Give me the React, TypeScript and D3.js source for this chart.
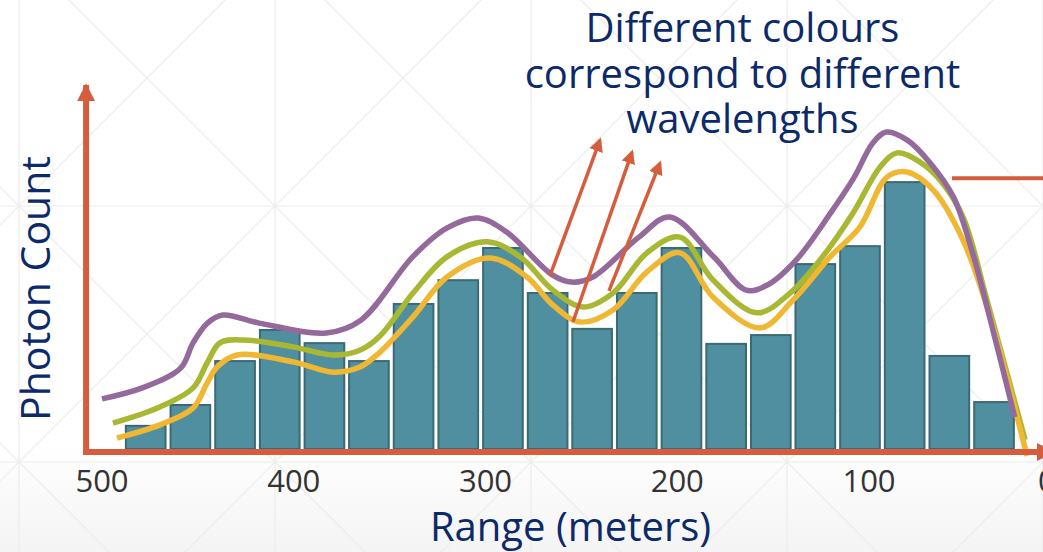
import React from "react";
import * as d3 from "d3";

const W = 1043;
const H = 552;

// Histogram bins (range in meters, bin centres) and photon counts
const binCenters = [477.2, 453.9, 430.6, 407.3, 384.0, 360.8, 337.5, 314.2, 290.9, 267.6, 244.4, 221.1, 197.8, 174.5, 151.2, 128.0, 104.7, 81.4, 58.1, 34.8];
const binWidth = 23.3;
const counts = [6.6, 12.3, 24.3, 32.8, 29.2, 24.3, 39.9, 46.4, 55.2, 42.9, 33.1, 42.9, 55.2, 29.0, 31.4, 50.8, 55.7, 73.2, 25.7, 13.1];

// Smooth curves for different wavelengths: [range, count]
const purpleCurve: [number, number][] = [[500, 13.7], [479, 16.7], [459, 22.1], [452.5, 29], [445, 34.4], [437, 36.6], [418, 34.4], [383, 31.7], [365, 35.2], [338, 52.5], [320, 60.4], [304, 63.1], [289, 59.3], [265, 47.5], [255, 45.6], [244, 47], [220, 57.9], [204, 63.4], [181, 52.5], [164, 43.4], [153, 44.8], [138, 51.6], [120, 64.5], [108, 74], [98, 83.6], [91, 86.6], [80, 84.4], [68, 78.1], [56, 68.9], [46, 53.6], [35, 31.7], [24, 8.7]];
const greenCurve: [number, number][] = [[494.3, 7.1], [469.8, 11.5], [452.5, 16.7], [445.2, 23.5], [438.5, 29.0], [426.5, 29.8], [400.4, 27.9], [379.5, 25.7], [365.5, 27.0], [355.0, 30.9], [337.8, 42.6], [320.1, 52.5], [299.2, 56.6], [282.0, 52.5], [264.8, 43.4], [249.1, 38.8], [233.5, 42.6], [215.8, 53.6], [198.6, 57.9], [181.4, 46.2], [158.4, 37.2], [141.2, 42.6], [125.6, 51.6], [108.3, 64.5], [94.3, 77.0], [85.4, 80.9], [73.4, 78.4], [63.0, 73.5], [51.0, 63.4], [38.5, 40.7], [18.6, 2.5]];
const yellowCurve: [number, number][] = [[492.2, 3.0], [469.8, 6.6], [452.5, 11.2], [445.2, 18.0], [440.0, 22.4], [429.6, 25.7], [400.4, 23.8], [379.5, 21.0], [365.5, 22.4], [355.0, 26.5], [337.8, 36.1], [320.1, 47.0], [297.7, 52.2], [278.4, 47.0], [264.8, 39.3], [250.7, 34.7], [233.5, 38.0], [215.8, 48.4], [198.6, 53.6], [181.4, 41.5], [156.8, 33.1], [139.6, 40.7], [120.3, 52.5], [104.7, 60.7], [90.6, 74.3], [80.2, 75.7], [66.6, 70.8], [51.0, 57.1], [36.9, 36.1], [17.6, -1.9]];

// Annotation arrows: [fromRange, fromCount, toRange, toCount]
const arrows: [number, number, number, number][] = [[266.4, 47.3, 240.3, 84.4], [254.4, 34.7, 223.6, 81.1], [235.6, 43.2, 209.0, 78.1]];
const markerLine = { from: 56.7, to: -5, count: 74.0 };

const xTicks = [500, 400, 300, 200, 100, 0];
const annotationLines = ["Different colours", "correspond to different", "wavelengths"];

const AXIS = "#d55c3d";
const NAVY = "#0c2a6a";
const FONT = "'Open Sans', 'Noto Sans', sans-serif";

export default function App() {
  const x = d3.scaleLinear().domain([500, 0]).range([102, 1060.75]);
  const y = d3.scaleLinear().domain([0, 100]).range([449, 83]);

  const line = d3
    .line<[number, number]>()
    .x((d) => x(d[0]))
    .y((d) => y(d[1]))
    .curve(d3.curveCatmullRom.alpha(0.5));

  // background grid pattern
  const gridV = d3.range(19, W + 1, 256);
  const gridH = d3.range(206 - 256, H + 256, 256);
  const diag: number[] = d3.range(-8, 10);

  const axisX = x(508.3);
  const axisY = y(0) + 3;

  return (
    <svg width={W} height={H} style={{ position: "absolute", left: 0, top: 0 }} fontFamily={FONT}>
      <defs>
        <linearGradient id="bg" x1="0" y1="0" x2="0" y2="1">
          <stop offset="0" stopColor="#ffffff" />
          <stop offset="0.8" stopColor="#ffffff" />
          <stop offset="1" stopColor="#f4f4f4" />
        </linearGradient>
        <marker id="ah" viewBox="0 0 10 10" refX="8" refY="5" markerWidth="14" markerHeight="14" markerUnits="userSpaceOnUse" orient="auto">
          <path d="M0,0 L10,5 L0,10 Z" fill={AXIS} />
        </marker>
        <marker id="axh" viewBox="0 0 10 10" refX="9" refY="5" markerWidth="18" markerHeight="18" markerUnits="userSpaceOnUse" orient="auto">
          <path d="M0,0 L10,5 L0,10 Z" fill={AXIS} />
        </marker>
      </defs>
      <rect width={W} height={H} fill="url(#bg)" />
      <g stroke="#ececec" strokeWidth={1.2} fill="none">
        {gridV.map((gx) => (
          <line key={"v" + gx} x1={gx} x2={gx} y1={0} y2={H} />
        ))}
        {gridH.map((gy) => (
          <line key={"h" + gy} x1={0} x2={W} y1={gy} y2={gy} />
        ))}
        {diag.map((k) => {
          const c = 19 - 206 + 256 * k;
          return <line key={"d1" + k} x1={c} y1={0} x2={c + 800} y2={800} />;
        })}
        {diag.map((k) => {
          const c = 19 + 206 + 256 * k;
          return <line key={"d2" + k} x1={c} y1={0} x2={c - 800} y2={800} />;
        })}
      </g>

      {/* bars */}
      <g>
        {binCenters.map((c, i) => {
          const x0 = x(c + binWidth / 2);
          const x1 = x(c - binWidth / 2);
          const top = y(counts[i]);
          return (
            <rect
              key={i}
              x={x0 + 2.5}
              y={top + 1}
              width={x1 - x0 - 5}
              height={y(0) - top - 1}
              fill="#4f8fa0"
              stroke="#3b6a76"
              strokeWidth={2}
            />
          );
        })}
      </g>

      {/* curves */}
      <g fill="none" strokeWidth={5.5} strokeLinejoin="round">
        <path d={line(greenCurve) || ""} stroke="#a9b833" />
        <path d={line(yellowCurve) || ""} stroke="#f0b832" />
        <path d={line(purpleCurve) || ""} stroke="#946a9c" />
      </g>

      {/* axes */}
      <line x1={axisX} x2={axisX} y1={axisY + 3} y2={y(100) + 2} stroke={AXIS} strokeWidth={6} markerEnd="url(#axh)" />
      <line x1={axisX - 3} x2={1053} y1={axisY} y2={axisY} stroke={AXIS} strokeWidth={6} markerEnd="url(#axh)" />

      {/* annotation arrows */}
      <g stroke={AXIS} strokeWidth={3.5}>
        {arrows.map((a, i) => (
          <line key={i} x1={x(a[0])} y1={y(a[1])} x2={x(a[2])} y2={y(a[3])} markerEnd="url(#ah)" />
        ))}
      </g>
      <line x1={x(markerLine.from)} x2={x(markerLine.to)} y1={y(markerLine.count)} y2={y(markerLine.count)} stroke={AXIS} strokeWidth={4} />

      {/* tick labels */}
      <g fontSize={31} fill="#333333" textAnchor="middle">
        {xTicks.map((t) => (
          <text key={t} x={x(t) + (t === 0 ? -14 : 0)} y={492}>
            {t}
          </text>
        ))}
      </g>

      <text x={570.5} y={541} fontSize={40} fill={NAVY} textAnchor="middle">
        Range (meters)
      </text>
      <text transform={`translate(50,288.5) rotate(-90)`} fontSize={41} fill={NAVY} textAnchor="middle">
        Photon Count
      </text>
      <g fontSize={40} fill={NAVY} textAnchor="middle">
        {annotationLines.map((l, i) => (
          <text key={i} x={742.5} y={42 + i * 45.5}>
            {l}
          </text>
        ))}
      </g>
    </svg>
  );
}
